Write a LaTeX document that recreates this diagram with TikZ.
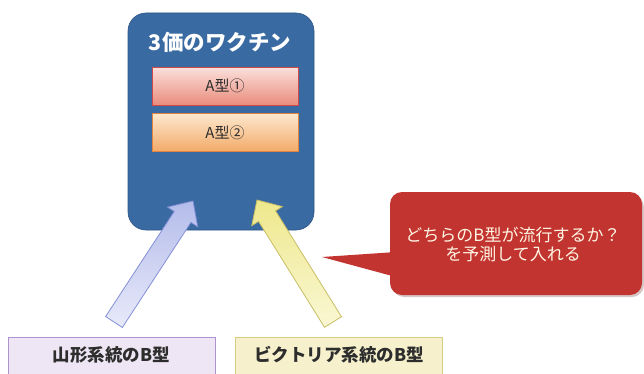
\documentclass[tikz,border=0pt]{standalone}
\usepackage{fontspec}
\setmainfont{Noto Sans CJK JP}
\usetikzlibrary{calc}
\definecolor{vacblue}{RGB}{58,106,162}
\definecolor{vacedge}{RGB}{44,84,132}
\definecolor{pinktop}{RGB}{250,224,220}
\definecolor{pinkbot}{RGB}{234,140,124}
\definecolor{pinkedge}{RGB}{208,72,72}
\definecolor{orgtop}{RGB}{252,232,206}
\definecolor{orgbot}{RGB}{243,170,104}
\definecolor{orgedge}{RGB}{226,132,62}
\definecolor{callred}{RGB}{194,52,48}
\definecolor{callshadow}{RGB}{215,200,200}
\definecolor{calltext}{RGB}{255,246,228}
\definecolor{bluehead}{RGB}{180,188,234}
\definecolor{bluetail}{RGB}{232,234,250}
\definecolor{blueedge}{RGB}{132,144,214}
\definecolor{yelhead}{RGB}{238,232,140}
\definecolor{yeltail}{RGB}{250,247,212}
\definecolor{yeledge}{RGB}{200,190,100}
\definecolor{lavfill}{RGB}{238,230,244}
\definecolor{lavedge}{RGB}{176,146,204}
\definecolor{ylwfill}{RGB}{246,241,204}
\definecolor{ylwedge}{RGB}{214,204,130}
\definecolor{textgray}{RGB}{45,45,45}
\newcommand\myblockarrow[3]{%
  \draw[#3]
    ($(#1)!10pt!-90:(#2)$) --
    ($($(#2)!19pt!(#1)$)!10pt!-90:(#2)$) --
    ($($(#2)!19pt!(#1)$)!18pt!-90:(#2)$) --
    (#2) --
    ($($(#2)!19pt!(#1)$)!18pt!90:(#2)$) --
    ($($(#2)!19pt!(#1)$)!10pt!90:(#2)$) --
    ($(#1)!10pt!90:(#2)$) -- cycle;}
\begin{document}
\begin{tikzpicture}[x=1pt,y=1pt,
  abox/.style={minimum width=146pt, minimum height=38pt, inner sep=0pt, line width=0.8pt,
    font=\fontsize{15}{17}\selectfont, text=textgray},
  bbox/.style={minimum width=207pt, minimum height=46pt, inner sep=0pt, line width=0.9pt},
  blbl/.style={font=\fontsize{17.5}{20}\selectfont\bfseries, text=textgray},
  ctext/.style={font=\fontsize{17}{19.5}\selectfont, text=calltext, align=center}]
\clip (0,0) rectangle (644,373);
\fill[white] (0,0) rectangle (644,373);
% vaccine box
\node[draw=vacedge, fill=vacblue, line width=0.6pt, rounded corners=18pt,
  minimum width=186pt, minimum height=217pt, inner sep=0pt] (vac) at (221,251.5) {};
\node[font=\fontsize{21.5}{24}\selectfont\bfseries, text=white] (title) at (220,331) {3価のワクチン};
\node[abox, top color=pinktop, bottom color=pinkbot, draw=pinkedge] (a1) at (225,287) {A型①};
\node[abox, top color=orgtop, bottom color=orgbot, draw=orgedge] (a2) at (225,240.5) {A型②};
% bottom boxes
\node[bbox, fill=lavfill, draw=lavedge] (yam) at (111.5,13) {};
\node[blbl] (yamt) at (111.5,18) {山形系統のB型};
\node[bbox, fill=ylwfill, draw=ylwedge] (vic) at (339,13) {};
\node[blbl] (vict) at (339,18) {ビクトリア系統のB型};
% arrows
\coordinate (bt) at (114,51);
\coordinate (bh) at (193,172);
\coordinate (yt) at (333,51);
\coordinate (yh) at (257,173);
\myblockarrow{bt}{bh}{draw=blueedge, line width=0.8pt, top color=bluehead, bottom color=bluetail}
\myblockarrow{yt}{yh}{draw=yeledge, line width=0.8pt, top color=yelhead, bottom color=yeltail}
% callout
\fill[callshadow, rounded corners=12pt] (392,76) rectangle (644,178);
\node[fill=callred, rounded corners=12pt, minimum width=252pt, minimum height=103pt,
  inner sep=0pt] (call) at (516,129.5) {};
\coordinate (ptip) at (322,116);
\fill[callred] (ptip) -- (396,121) -- (396,96) -- cycle;
\node[ctext] (calltxt) at (513,128.5) {どちらのB型が流行するか？\\を予測して入れる};
\end{tikzpicture}
\end{document}
